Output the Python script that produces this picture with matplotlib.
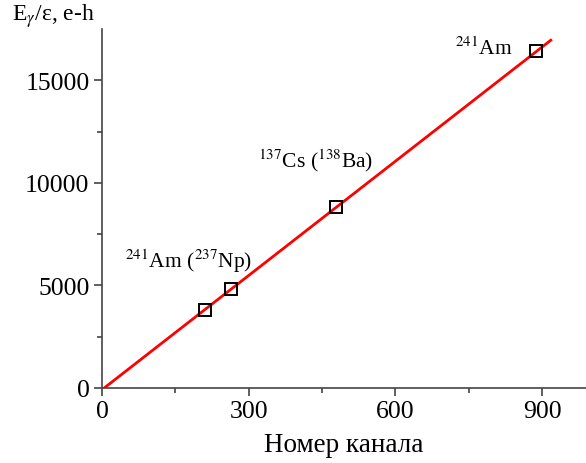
import numpy as np
import matplotlib.pyplot as plt

plt.rcParams['font.family'] = ['Liberation Serif', 'DejaVu Serif']
plt.rcParams['mathtext.fontset'] = 'stix'

# точки калибровки (номер канала, E/eps)
kanal = [211, 264, 479, 887]
energia = [3800, 4830, 8830, 16440]

# линейная аппроксимация
linea_x = [5, 918]
linea_y = [0, 16960]

etiquetas = [r'$^{241}$Am ($^{237}$Np)', r'$^{137}$Cs ($^{138}$Ba)', r'$^{241}$Am']
etiq_x = [47, 320, 723]
etiq_y = [5900, 10780, 16290]

fig = plt.figure(figsize=(5.86, 4.64), dpi=100)
ax = fig.add_axes([0.174, 0.162, 0.826, 0.773])

ax.plot(linea_x, linea_y, color='red', lw=2.0, zorder=2)
ax.plot(kanal, energia, ls='none', marker='s', ms=8.5, mfc='none',
        mec='black', mew=1.4, zorder=3)

for t, x, y in zip(etiquetas, etiq_x, etiq_y):
    ax.text(x, y, t, fontsize=15.5, ha='left', va='baseline')

ax.set_xlim(0, 990)
ax.set_ylim(0, 17500)
ax.set_xticks([0, 300, 600, 900])
ax.set_xticks([150, 450, 750], minor=True)
ax.set_yticks([0, 5000, 10000, 15000])
ax.set_yticks([2500, 7500, 12500], minor=True)

for s in ['top', 'right']:
    ax.spines[s].set_visible(False)
for s in ['left', 'bottom']:
    ax.spines[s].set_linewidth(1.2)
    ax.spines[s].set_color('#444444')

ax.tick_params(which='major', direction='out', length=6, width=1.2,
               labelsize=18.5, color='#444444', pad=3)
ax.tick_params(which='minor', direction='out', length=3.5, width=1.2,
               color='#444444')

ax.set_xlabel('Номер канала', fontsize=19.5, labelpad=7)
fig.text(0.02, 0.955, r'E$_\gamma$/ε, e-h', fontsize=17, ha='left', va='baseline')

fig.savefig('out.png', dpi=100)
